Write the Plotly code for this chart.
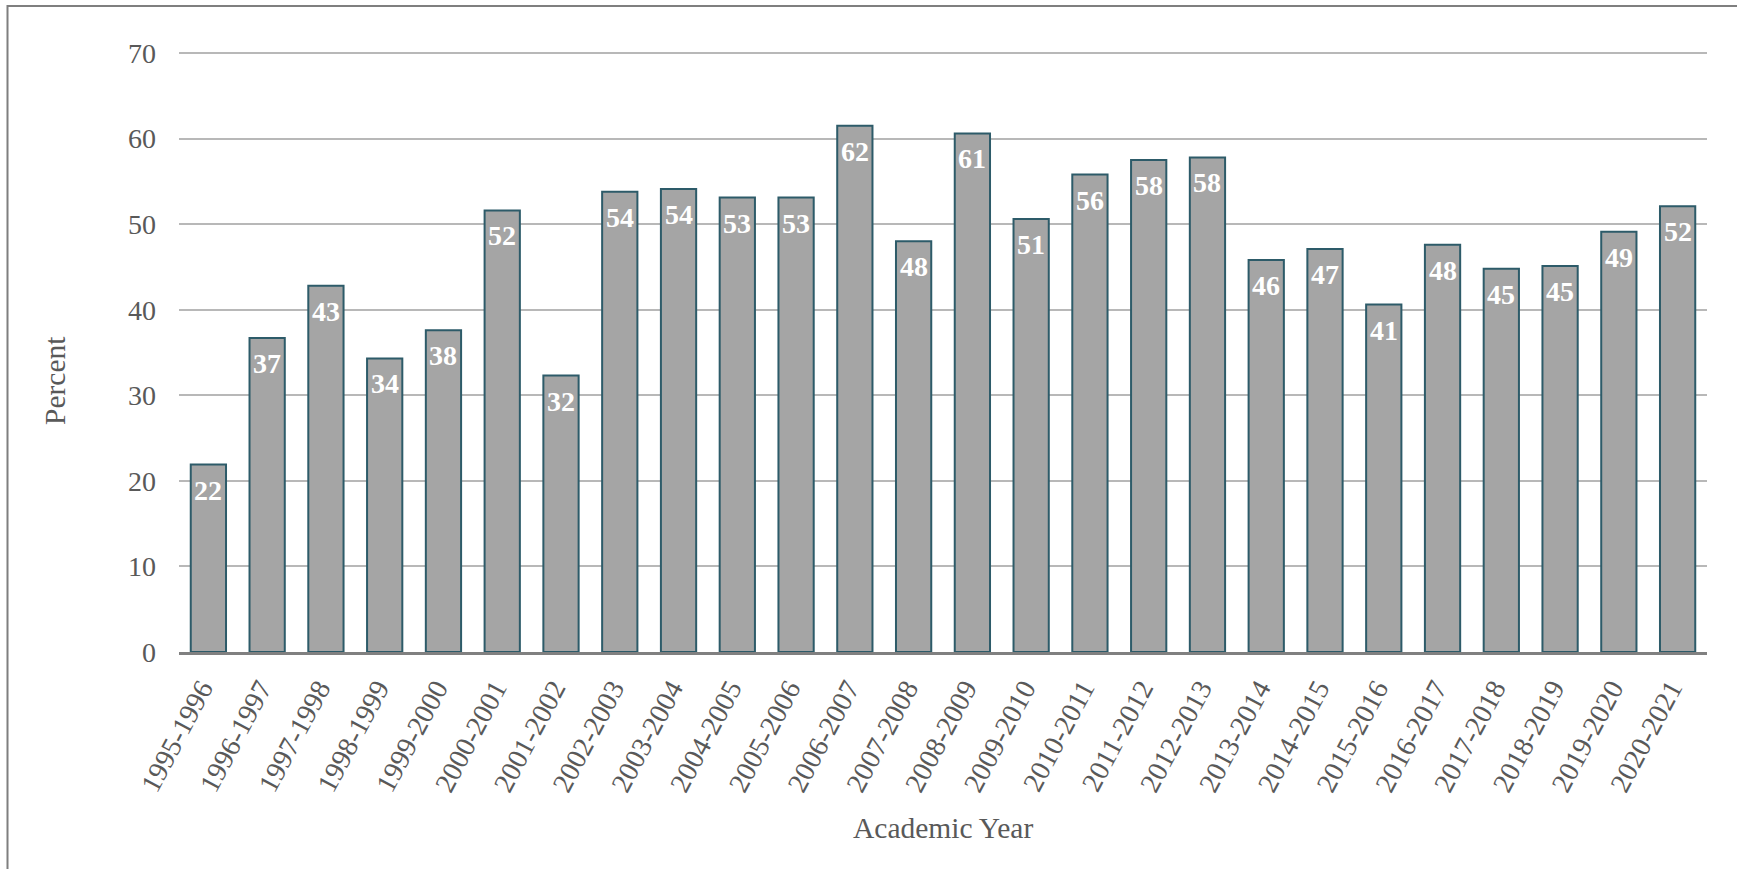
import plotly.graph_objects as go

years = ["1995-1996", "1996-1997", "1997-1998", "1998-1999", "1999-2000", "2000-2001",
         "2001-2002", "2002-2003", "2003-2004", "2004-2005", "2005-2006", "2006-2007",
         "2007-2008", "2008-2009", "2009-2010", "2010-2011", "2011-2012", "2012-2013",
         "2013-2014", "2014-2015", "2015-2016", "2016-2017", "2017-2018", "2018-2019",
         "2019-2020", "2020-2021"]
percent = [21.9, 36.7, 42.8, 34.3, 37.6, 51.6, 32.3, 53.8, 54.1, 53.1, 53.1, 61.5,
           48.0, 60.6, 50.6, 55.8, 57.5, 57.8, 45.8, 47.1, 40.6, 47.6, 44.8, 45.1,
           49.1, 52.1]
labels = [str(int(round(v))) for v in percent]
y_ticks = [0, 10, 20, 30, 40, 50, 60, 70]

FONT = "Liberation Serif, Times New Roman, serif"
GREY = "#595959"

fig = go.Figure(go.Bar(
    x=years, y=percent,
    marker=dict(color="#A5A5A5", line=dict(color="#2D5B69", width=2)),
    hoverinfo="skip",
))

W, H = 1737, 869
L, R, T, B = 179, 30, 50, 217
pw, ph = W - L - R, H - T - B
y_top = 70 * ph / 599.0

def px_x(x):
    return (x - L) / pw

def px_y(y):
    return (H - B - y) / ph

annotations = [
    dict(text=lab, x=yr, y=val, xref="x", yref="y", xanchor="center", yanchor="top",
         yshift=-8, showarrow=False,
         font=dict(family=FONT, size=28, color="white", weight="bold"))
    for yr, val, lab in zip(years, percent, labels)
]
annotations += [
    dict(text="Academic Year", xref="paper", yref="paper", x=0.5, y=px_y(828),
         xanchor="center", yanchor="middle", showarrow=False,
         font=dict(family=FONT, size=29.5, color=GREY)),
    dict(text="Percent", xref="paper", yref="paper", x=px_x(55), y=px_y(381),
         xanchor="center", yanchor="middle", showarrow=False, textangle=-90,
         font=dict(family=FONT, size=29.5, color=GREY)),
]

fig.update_layout(
    width=W, height=H,
    margin=dict(l=L, r=R, t=T, b=B, autoexpand=False),
    plot_bgcolor="white", paper_bgcolor="white",
    bargap=0.4, showlegend=False,
    font=dict(family=FONT, size=28, color=GREY),
    xaxis=dict(tickangle=-62, tickfont=dict(family=FONT, size=28, color=GREY),
               showline=True, linecolor="#808080", linewidth=3, ticks="",
               showgrid=False, ticklabelstandoff=6, ticklabelshift=-7),
    yaxis=dict(range=[0, y_top], tickvals=y_ticks, showgrid=True, gridcolor="#B8B8B8",
               gridwidth=1.5, zeroline=False, ticks="", ticklabelstandoff=22,
               tickfont=dict(family=FONT, size=28, color=GREY)),
    annotations=annotations,
    shapes=[dict(type="rect", xref="paper", yref="paper",
                 x0=px_x(7.5), x1=px_x(1800), y0=px_y(950), y1=px_y(6),
                 line=dict(color="#7F7F7F", width=2), fillcolor="rgba(0,0,0,0)",
                 layer="below")],
)

fig.write_html("out.html", config={"displayModeBar": False},
               post_script="document.body.style.margin='0';")
